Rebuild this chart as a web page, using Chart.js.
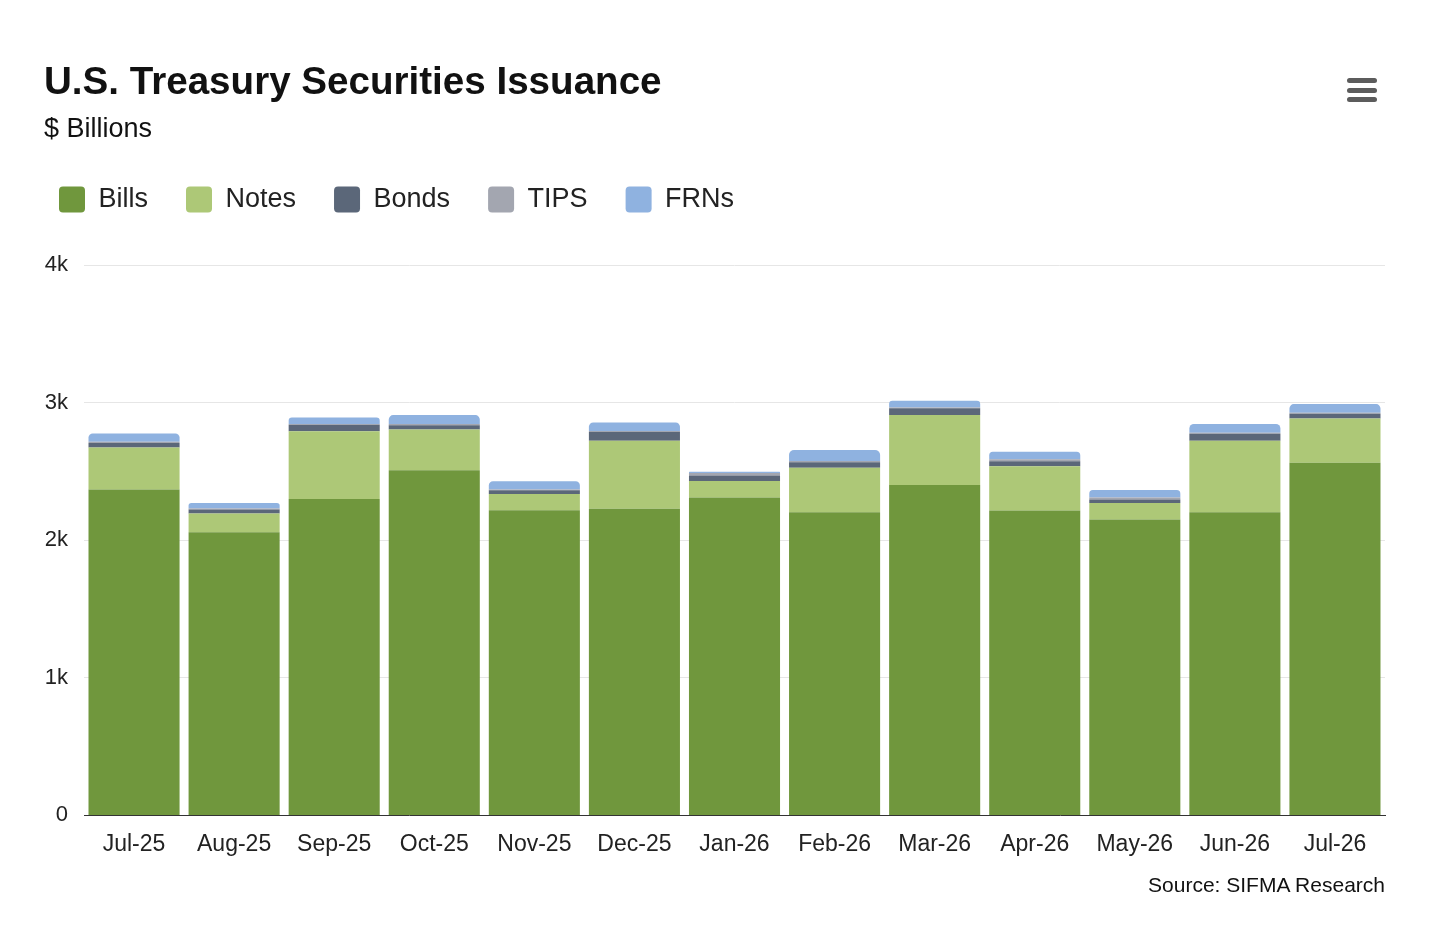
<!DOCTYPE html>
<html lang="en">
<head>
    <meta charset="UTF-8">
    <title>U.S. Treasury Securities Issuance</title>
    <script src="https://cdn.jsdelivr.net/npm/chart.js"></script>
    <style>
        body { margin: 0; background: #fff; font-family: "Liberation Sans", Arial, sans-serif; }
        .wrap { position: relative; width: 1456px; height: 927px; }
        #chart { position: absolute; left: 0; top: 0; }
        .title { position: absolute; left: 44px; top: 61px; font-size: 38.6px; line-height: 39px; font-weight: bold; color: #111; white-space: nowrap; }
        .subtitle { position: absolute; left: 44px; top: 115px; font-size: 27px; line-height: 27px; color: #111; }
        .source { position: absolute; right: 71px; top: 874px; font-size: 21px; line-height: 21px; color: #111; }
        .menu { position: absolute; left: 1347px; top: 78px; width: 30px; }
        .menu div { height: 5px; background: #5c5c5c; border-radius: 3px; margin-bottom: 4.5px; }
    </style>
</head>
<body>
<div class="wrap">
    <canvas id="chart" width="1456" height="927"></canvas>
    <div class="title">U.S. Treasury Securities Issuance</div>
    <div class="subtitle">$ Billions</div>
    <div class="menu"><div></div><div></div><div></div></div>
    <div class="source">Source: SIFMA Research</div>
</div>

<script>
    // monthly issuance, $ billions
    const months = ['Jul-25', 'Aug-25', 'Sep-25', 'Oct-25', 'Nov-25', 'Dec-25', 'Jan-26',
                    'Feb-26', 'Mar-26', 'Apr-26', 'May-26', 'Jun-26', 'Jul-26'];
    const bills = [2369, 2058, 2300, 2509, 2218, 2228, 2311, 2204, 2402, 2216, 2150, 2204, 2562];
    const notes = [305, 136, 491, 296, 117, 494, 120, 322, 507, 322, 121, 518, 323];
    const bonds = [33, 30, 48, 30, 28, 64, 40, 40, 50, 36, 25, 52, 34];
    const tips = [8, 7, 5, 9, 6, 7, 18, 9, 6, 15, 15, 6, 7];
    const frns = [61, 40, 48, 65, 60, 63, 8, 80, 48, 53, 53, 64, 63];
    const yTicks = [0, 1000, 2000, 3000, 4000];

    Chart.defaults.font.family = '"Liberation Sans", Arial, sans-serif';
    Chart.defaults.color = '#222';

    // push the plot down below the legend
    const legendGap = {
        id: 'legendGap',
        beforeInit(chart) {
            const fit = chart.legend.fit;
            chart.legend.fit = function () {
                fit.bind(chart.legend)();
                this.height += 42;
            };
        }
    };

    const ctx = document.getElementById('chart').getContext('2d');
    new Chart(ctx, {
        type: 'bar',
        data: {
            labels: months,
            datasets: [
                { label: 'Bills', data: bills, backgroundColor: '#70973d' },
                { label: 'Notes', data: notes, backgroundColor: '#adc877' },
                { label: 'Bonds', data: bonds, backgroundColor: '#5b6779' },
                { label: 'TIPS', data: tips, backgroundColor: '#a3a6b0' },
                { label: 'FRNs', data: frns, backgroundColor: '#8fb2e0',
                  borderRadius: { topLeft: 5, topRight: 5, bottomLeft: 0, bottomRight: 0 } }
            ]
        },
        options: {
            responsive: false,
            animation: false,
            datasets: { bar: { borderWidth: 0, barPercentage: 0.91, categoryPercentage: 1 } },
            layout: { padding: { top: 148, left: 21, right: 71, bottom: 54 } },
            plugins: {
                tooltip: { enabled: false },
                legend: {
                    align: 'start',
                    labels: {
                        boxWidth: 26,
                        boxHeight: 26,
                        padding: 38,
                        useBorderRadius: true,
                        borderRadius: 4,
                        font: { size: 27 },
                        color: '#222'
                    }
                }
            },
            scales: {
                x: {
                    stacked: true,
                    grid: { display: false, drawTicks: false },
                    border: { color: '#333', width: 1 },
                    ticks: { padding: 15, font: { size: 23 }, color: '#222', maxRotation: 0 }
                },
                y: {
                    stacked: true,
                    min: 0,
                    max: 4000,
                    afterBuildTicks: (scale) => { scale.ticks = yTicks.map(v => ({ value: v })); },
                    afterFit: (scale) => { scale.width = 63; },
                    grid: { color: '#e6e6e6', drawTicks: false },
                    border: { display: false },
                    ticks: {
                        padding: 16,
                        font: { size: 22 },
                        color: '#222',
                        callback: v => v === 0 ? '0' : (v / 1000) + 'k'
                    }
                }
            }
        },
        plugins: [legendGap]
    });
</script>
</body>
</html>
